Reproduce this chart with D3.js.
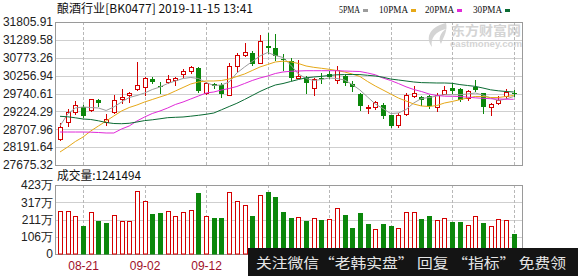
<!DOCTYPE html>
<html>
<head>
<meta charset="utf-8">
<script src="https://cdn.jsdelivr.net/npm/d3@7"></script>
<style>
  body { margin: 0; background: #fff; }
  svg { display: block; }
</style>
</head>
<body>
<svg id="chart" width="578" height="276"></svg>
<script>
// Trading days shown in the window
const dates = ["08-16","08-19","08-20","08-21","08-22","08-23","08-26","08-27","08-28","08-29","08-30",
  "09-02","09-03","09-04","09-05","09-06","09-09","09-10","09-11","09-12",
  "09-16","09-17","09-18","09-19","09-20","09-23","09-24","09-25","09-26","09-27","09-30",
  "10-08","10-09","10-10","10-11","10-14","10-15","10-16","10-17","10-18",
  "10-21","10-22","10-23","10-24","10-25","10-28","10-29","10-30","10-31",
  "11-01","11-04","11-05","11-06","11-07","11-08","11-11","11-12","11-13","11-14","11-15"];

// Daily OHLC of the index
const open  = [28426,28909,29215,29359,29264,29553,28926,29197,29582,29697,29871,29937,30159,29971,30081,30139,30313,30382,30477,29755,
               30015,29977,29706,30526,30861,30910,30622,31104,31055,30737,30671,30188,30188,29899,30188,30313,30139,30237,30024,29735,
               29322,29342,29417,29111,28839,29148,29660,29639,29660,29342,29735,29899,29871,29611,29928,29755,29351,29466,29660,29755];
const high  = [28880,29284,29533,29408,29590,29590,29148,29689,29871,29793,30638,30209,30226,30081,30289,30208,30457,30544,30497,30081,
               30058,30044,30622,30910,31199,30960,31430,31488,31470,30882,30766,30717,30246,30188,30333,30382,30526,30284,30093,29755,
               29417,29515,29466,29128,29177,29755,29948,29660,29706,29755,29948,30044,29899,29850,30139,29769,29466,29660,29871,29850];
const low   = [28397,28802,29148,29062,29235,29380,28831,29177,29475,29504,29842,29697,30035,29746,30058,29995,30208,30333,29784,29740,
               29891,29631,29689,30362,30838,30564,30608,30902,30717,30428,30139,30174,29755,29706,30044,30188,30044,29995,29804,29273,
               29177,29301,29033,28781,28773,29111,29639,29417,29322,29226,29712,29755,29524,29561,29804,29177,29111,29437,29611,29660];
const close = [28781,29215,29408,29099,29573,29457,29004,29553,29631,29746,29986,30180,30081,29942,30168,30180,30399,30497,29804,30044,
               29949,29735,30526,30861,30939,30593,31248,31055,30815,30708,30188,30237,30044,30159,30150,30217,30428,30044,29928,29371,
               29351,29495,29082,28810,29128,29706,29755,29561,29371,29706,29850,29804,29544,29821,29833,29342,29437,29561,29775,29735];

// Moving averages
const ma5  = [28802,29148,29322,29351,29336,29322,29250,29351,29495,29625,29683,29755,29856,29928,30029,30102,30174,30203,30174,30058,
              29972,29986,30073,30333,30506,30665,30824,30925,30838,30781,30564,30304,30174,30116,30145,30188,30174,30131,30001,29842,
              29640,29437,29307,29163,29177,29278,29466,29596,29625,29668,29706,29706,29706,29726,29755,29697,29611,29538,29582,29654];
const ma10 = [28051,28195,28354,28484,28657,28802,28946,29091,29235,29336,29408,29495,29567,29640,29712,29813,29914,30015,30073,30102,
              30102,30116,30159,30232,30304,30405,30506,30578,30651,30674,30656,30607,30535,30497,30469,30440,30405,30362,30304,30232,
              30087,29957,29842,29726,29611,29524,29437,29380,29365,29394,29466,29510,29561,29611,29654,29654,29625,29625,29654,29683];
const ma20 = [28628,28628,28628,28628,28623,28614,28600,28600,28715,28802,28946,29062,29163,29235,29322,29423,29495,29582,29668,29755,
              29784,29842,29885,29943,30029,30116,30188,30246,30318,30362,30382,30390,30399,30399,30399,30399,30399,30390,30382,30376,
              30333,30281,30188,30116,30029,29934,29856,29798,29726,29683,29663,29660,29654,29634,29616,29602,29590,29582,29576,29573];
const ma30 = [29082,29068,29039,29004,28990,28952,28903,28874,28868,28880,28917,28958,28981,29010,29042,29053,29062,29085,29111,29140,
              29177,29270,29365,29458,29567,29683,29798,29899,29986,30029,30087,30145,30194,30217,30237,30261,30281,30287,30289,30287,
              30266,30246,30211,30159,30131,30102,30073,30055,30050,30044,30044,30035,29998,29972,29946,29899,29847,29819,29798,29784];

// Volume, in units of 万
const volume = [264,264,233,174,256,204,188,239,202,202,386,325,245,253,264,233,258,270,377,233,
                219,219,378,325,300,233,362,382,351,259,219,225,202,219,208,215,280,239,157,251,
                184,153,184,172,158,256,259,215,233,208,219,198,194,178,233,192,172,213,208,124.1494];

const priceTicks = [31805.91, 31289.58, 30773.26, 30256.94, 29740.61, 29224.29, 28707.96, 28191.64, 27675.32];
const volTicks = [0, 105.75, 211.5, 317.25, 423];
const volTickLabels = ["0", "106万", "211万", "317万", "423万"];
const gridDates = ["08-21","09-02","09-12","09-25","10-14","10-24","11-05","11-15"];
const labelDates = ["08-21","09-02","09-12"];
const maNames = ["5PMA", "10PMA", "20PMA", "30PMA"];

const title = "酿酒行业[BK0477] 2019-11-15 13:41";
const volTitle = "成交量:1241494";
const bannerText = "关注微信“老韩实盘” 回复 “指标” 免费领";

// ---- layout ----
const L = 55, R = 522;
const pTop = 22, pBot = 165;
const vTop = 185, vBot = 254;
const UP = "#d40000", DOWN = "#0b870b";
const maColors = ["#9c9c9c", "#e6a817", "#e02ad8", "#0b6b34"];
const cjk = "'Noto Sans CJK SC', sans-serif";
const sans = "'Liberation Sans', Arial, sans-serif";

const svg = d3.select("#chart");
svg.append("rect").attr("width", 578).attr("height", 276).attr("fill", "#fff");

const x = d3.scalePoint().domain(dates).range([60, 513.7]);
const yP = d3.scaleLinear().domain([27675.32, 31805.91]).range([pBot, pTop]);
const yV = d3.scaleLinear().domain([0, 423]).range([vBot, vTop]);
const px = v => Math.round(v) + 0.5;

// ---- watermark logo ----
const wm = svg.append("g").attr("fill", "#d4d4d4");
wm.append("path")
  .attr("d", "M446,23 C432,26 424,36 432,47 C430,38 436,31 446,29 C440,33 438,39 441,44 C444,36 448,30 446,23 Z");
wm.append("text").attr("x", 451).attr("y", 35).attr("font-family", cjk).attr("font-size", 13)
  .attr("font-weight", 700).attr("textLength", 70).attr("lengthAdjust", "spacingAndGlyphs").text("东方财富网");
wm.append("text").attr("x", 450).attr("y", 47).attr("font-family", sans).attr("font-size", 8.5)
  .attr("font-weight", 700).attr("textLength", 72).attr("lengthAdjust", "spacingAndGlyphs").text("eastmoney.com");

// ---- grids ----
const grid = svg.append("g");
grid.selectAll(".hp").data(priceTicks).join("line")
  .attr("x1", L).attr("x2", R)
  .attr("y1", d => px(yP(d))).attr("y2", d => px(yP(d)))
  .attr("stroke", "#cfcfcf");
grid.selectAll(".hv").data(volTicks).join("line")
  .attr("x1", L).attr("x2", R)
  .attr("y1", d => px(yV(d))).attr("y2", d => px(yV(d)))
  .attr("stroke", "#cfcfcf");
[[pTop, pBot], [vTop, vBot]].forEach(([a, b]) => {
  grid.append("g").selectAll("line").data(gridDates).join("line")
    .attr("x1", d => px(x(d))).attr("x2", d => px(x(d)))
    .attr("y1", a).attr("y2", b)
    .attr("stroke", "#b8b8b8").attr("stroke-dasharray", "3,2");
});
// panel frames
svg.append("rect").attr("x", L + 0.5).attr("y", pTop + 0.5).attr("width", R - L).attr("height", pBot - pTop)
  .attr("fill", "none").attr("stroke", "#9a9a9a");
svg.append("rect").attr("x", L + 0.5).attr("y", vTop + 0.5).attr("width", R - L).attr("height", vBot - vTop)
  .attr("fill", "none").attr("stroke", "#9a9a9a");

// ---- axes ----
const ap = svg.append("g").attr("transform", `translate(${L},0)`)
  .call(d3.axisLeft(yP).tickValues(priceTicks).tickFormat(d3.format(".2f")).tickSize(0).tickPadding(2));
ap.select(".domain").remove();
ap.selectAll("text").attr("font-family", sans).attr("font-size", 12).attr("fill", "#222");

const av = svg.append("g").attr("transform", `translate(${L},0)`)
  .call(d3.axisLeft(yV).tickValues(volTicks).tickFormat((d, i) => volTickLabels[i]).tickSize(0).tickPadding(2));
av.select(".domain").remove();
av.selectAll("text").attr("font-family", sans).attr("font-size", 12).attr("fill", "#222");

const ax = svg.append("g").attr("transform", `translate(0,${vBot})`)
  .call(d3.axisBottom(x).tickValues(labelDates).tickSize(0));
ax.select(".domain").remove();
ax.selectAll("text").attr("y", 16).attr("dy", null)
  .attr("font-family", sans).attr("font-size", 12).attr("fill", "#a0102a");

// ---- candles ----
const idx = d3.range(dates.length);
const cg = svg.append("g");
cg.selectAll(".wick").data(idx).join("line")
  .attr("x1", i => px(x(dates[i]))).attr("x2", i => px(x(dates[i])))
  .attr("y1", i => Math.round(yP(high[i]))).attr("y2", i => Math.round(yP(low[i])) + 1)
  .attr("stroke", i => close[i] > open[i] ? UP : DOWN);
cg.selectAll(".body").data(idx).join("rect")
  .each(function (i) {
    const up = close[i] > open[i];
    const cx = Math.round(x(dates[i]));
    const t = Math.round(yP(Math.max(open[i], close[i])));
    const b = Math.round(yP(Math.min(open[i], close[i])));
    const s = d3.select(this);
    if (up) {
      s.attr("x", cx - 2 + 0.5).attr("y", t + 0.5).attr("width", 4).attr("height", Math.max(b - t, 1))
        .attr("fill", "#fff").attr("stroke", UP);
    } else {
      s.attr("x", cx - 2).attr("y", t).attr("width", 5).attr("height", Math.max(b - t, 1))
        .attr("fill", DOWN);
    }
  });

// ---- moving averages ----
[ma5, ma10, ma20, ma30].forEach((ma, k) => {
  svg.append("path").datum(idx)
    .attr("fill", "none").attr("stroke", maColors[k]).attr("stroke-width", 1)
    .attr("d", d3.line().x(i => x(dates[i])).y(i => yP(ma[i]))(idx));
});

// ---- volume bars (coloured by change against the previous close) ----
const vg = svg.append("g");
vg.selectAll("rect").data(idx).join("rect")
  .each(function (i) {
    const up = i === 0 ? true : close[i] >= close[i - 1];
    const cx = Math.round(x(dates[i]));
    const t = Math.round(yV(volume[i]));
    const s = d3.select(this);
    if (up) {
      s.attr("x", cx - 2 + 0.5).attr("y", t + 0.5).attr("width", 4).attr("height", vBot - t - 0.5)
        .attr("fill", "#fff").attr("stroke", UP);
    } else {
      s.attr("x", cx - 2).attr("y", t).attr("width", 5).attr("height", vBot - t + 0.5)
        .attr("fill", DOWN);
    }
  });

// ---- titles & legend ----
svg.append("text").attr("x", 57).attr("y", 13).attr("font-family", cjk).attr("font-size", 12)
  .attr("fill", "#111").attr("textLength", 196).attr("lengthAdjust", "spacingAndGlyphs").text(title);
svg.append("text").attr("x", 57).attr("y", 180).attr("font-family", cjk).attr("font-size", 12)
  .attr("fill", "#111").attr("textLength", 84).attr("lengthAdjust", "spacingAndGlyphs").text(volTitle);

const legX = [339, 379, 425, 473];
const legW = [21, 29, 29, 29];
const lg = svg.append("g");
maNames.forEach((n, k) => {
  lg.append("text").attr("x", legX[k]).attr("y", 13).attr("font-family", "'Liberation Serif', serif")
    .attr("font-size", 11).attr("fill", "#111").attr("textLength", legW[k]).attr("lengthAdjust", "spacingAndGlyphs").text(n);
  lg.append("rect").attr("x", legX[k] + legW[k] + 3).attr("y", 9).attr("width", 5).attr("height", 3).attr("fill", maColors[k]);
});

// ---- promo banner ----
svg.append("rect").attr("x", 248).attr("y", 248).attr("width", 330).attr("height", 28).attr("fill", "#141414");
svg.append("text").attr("x", 256).attr("y", 268).attr("font-family", cjk).attr("font-size", 14)
  .attr("fill", "#e6e6e6").attr("textLength", 310).attr("lengthAdjust", "spacingAndGlyphs").text(bannerText);
</script>
</body>
</html>
